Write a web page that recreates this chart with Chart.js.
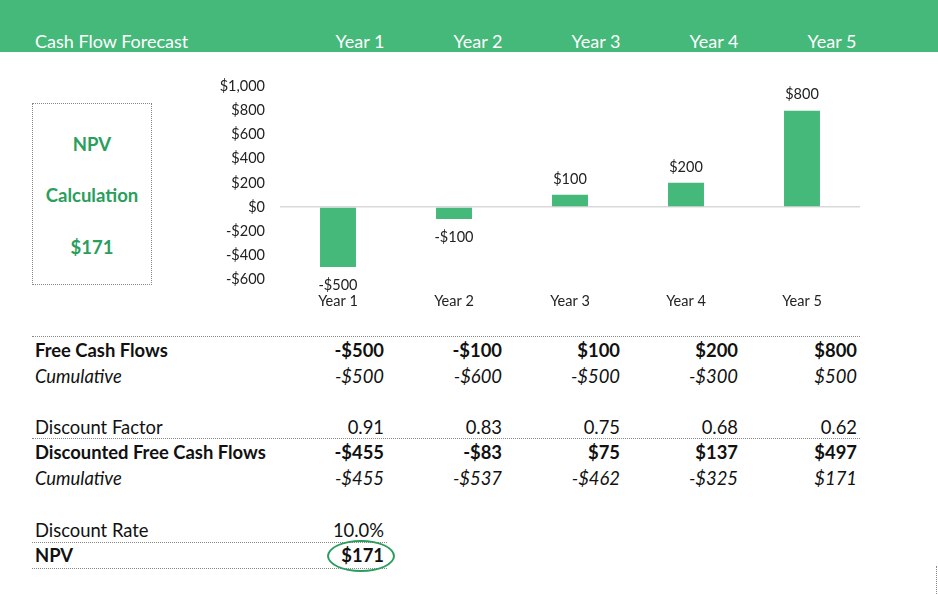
<!DOCTYPE html>
<html>
<head>
<meta charset="utf-8">
<script src="https://cdn.jsdelivr.net/npm/chart.js@4.4.1/dist/chart.umd.min.js"></script>
<style>
  html,body{margin:0;padding:0;background:#fff;}
  body{width:938px;height:594px;position:relative;overflow:hidden;font-family:Lato,"Open Sans",sans-serif;color:#111;}
  .band{position:absolute;left:0;top:0;width:938px;height:52px;background:#45B97A;}
  .htxt{position:absolute;top:30px;height:22px;line-height:22px;color:#fff;font-size:18px;}
  .hyear{width:100px;text-align:center;}
  .npvbox{position:absolute;left:32px;top:103px;width:118px;height:180px;border:1px dotted #888;}
  .npvtxt{position:absolute;left:0;width:118px;text-align:center;color:#2A9E5C;font-weight:bold;font-size:18.5px;line-height:22px;height:22px;}
  #chartWrap{position:absolute;left:200px;top:63px;width:680px;height:257px;}
  #c{display:block;width:680px;height:257px;}
  .row{position:absolute;left:0;width:938px;height:22px;line-height:22px;font-size:18.4px;}
  .lbl{position:absolute;left:35px;white-space:nowrap;}
  .val{position:absolute;width:110px;text-align:right;white-space:nowrap;}
  .b{font-weight:bold;}
  .i{font-style:italic;}
  .dot{position:absolute;height:0;border-top:1px dotted #888;}
  .ellipse{position:absolute;left:327px;top:540px;width:64px;height:28px;border:2.5px solid #2A9E5C;border-radius:50%;}
  .vdot{position:absolute;left:936px;top:566px;width:0;height:28px;border-left:1px dotted #888;}
</style>
</head>
<body>
<div class="band"></div>
<div id="header"></div>
<div class="npvbox" id="npvbox"></div>
<div id="chartWrap"><canvas id="c" width="680" height="257"></canvas></div>
<div id="table"></div>
<div class="vdot"></div>

<script>
// ---- data ----
const categories = ["Year 1", "Year 2", "Year 3", "Year 4", "Year 5"];
const freeCashFlows = [-500, -100, 100, 200, 800];
const cumulativeCashFlows = [-500, -600, -500, -300, 500];
const discountFactors = [0.91, 0.83, 0.75, 0.68, 0.62];
const discountedCashFlows = [-455, -83, 75, 137, 497];
const discountedCumulative = [-455, -537, -462, -325, 171];
const discountRate = "10.0%";
const npvValue = 171;
const yTicks = [-600, -400, -200, 0, 200, 400, 600, 800, 1000];

// ---- helpers ----
function money(v){
  const s = Math.abs(v).toLocaleString('en-US');
  return (v < 0 ? '-' : '') + '$' + s;
}
const colRight = [384, 502, 620, 738, 857];
const headCenter = [360, 478, 596, 714, 832];

// header
(function(){
  const h = document.getElementById('header');
  let html = '<div class="htxt" style="left:35px">Cash Flow Forecast</div>';
  categories.forEach((c,i)=>{
    html += '<div class="htxt hyear" style="left:'+(headCenter[i]-50)+'px">'+c+'</div>';
  });
  h.innerHTML = html;
})();

// NPV box
(function(){
  const b = document.getElementById('npvbox');
  b.innerHTML =
    '<div class="npvtxt" style="top:29px">NPV</div>' +
    '<div class="npvtxt" style="top:80px">Calculation</div>' +
    '<div class="npvtxt" style="top:132px">' + money(npvValue) + '</div>';
})();

// table
(function(){
  const t = document.getElementById('table');
  let html = '';
  function row(center, label, vals, cls){
    html += '<div class="row '+cls+'" style="top:'+(center-11)+'px"><span class="lbl">'+label+'</span>';
    vals.forEach((v,i)=>{
      if (v === null) return;
      html += '<span class="val" style="left:'+(colRight[i]-110)+'px">'+v+'</span>';
    });
    html += '</div>';
  }
  row(350, 'Free Cash Flows', freeCashFlows.map(money), 'b');
  row(376, 'Cumulative', cumulativeCashFlows.map(money), 'i');
  row(427, 'Discount Factor', discountFactors.map(v=>v.toFixed(2)), '');
  row(452, 'Discounted Free Cash Flows', discountedCashFlows.map(money), 'b');
  row(478, 'Cumulative', discountedCumulative.map(money), 'i');
  row(530, 'Discount Rate', [discountRate], '');
  row(555, 'NPV', [money(npvValue)], 'b');
  html += '<div class="dot" style="left:32px;top:336px;width:828px"></div>';
  html += '<div class="dot" style="left:32px;top:438px;width:828px"></div>';
  html += '<div class="dot" style="left:32px;top:542px;width:355px"></div>';
  html += '<div class="dot" style="left:32px;top:568px;width:355px"></div>';
  html += '<div class="ellipse"></div>';
  t.innerHTML = html;
})();

// chart
const barColor = '#45B97A';
const dataLabels = {
  id: 'dataLabels',
  afterDatasetsDraw(chart){
    const ctx = chart.ctx;
    const meta = chart.getDatasetMeta(0);
    ctx.save();
    ctx.font = '14.5px Lato, "Open Sans", sans-serif';
    ctx.fillStyle = '#222';
    ctx.textAlign = 'center';
    ctx.textBaseline = 'middle';
    meta.data.forEach((bar, i)=>{
      const v = chart.data.datasets[0].data[i];
      const y = v >= 0 ? bar.y - 16 : bar.y + 18;
      ctx.fillText(money(v), bar.x, y);
    });
    ctx.restore();
  }
};

new Chart(document.getElementById('c'), {
  type: 'bar',
  data: {
    labels: categories,
    datasets: [{
      data: freeCashFlows,
      backgroundColor: barColor,
      borderWidth: 0,
      barPercentage: 0.62,
      categoryPercentage: 0.5
    }]
  },
  plugins: [dataLabels],
  options: {
    responsive: false,
    maintainAspectRatio: false,
    animation: false,
    devicePixelRatio: 1,
    layout: { padding: { top: 8, right: 20, bottom: 0, left: 0 } },
    plugins: { legend: { display: false }, tooltip: { enabled: false } },
    scales: {
      x: {
        grid: { display: false, drawTicks: false },
        border: { display: false },
        ticks: { padding: 14, maxRotation: 0, color: '#222', font: { family: 'Lato', size: 14.5 } },
        afterFit(scale){ scale.height = 41; }
      },
      y: {
        min: -600, max: 1000,
        afterBuildTicks(scale){ scale.ticks = yTicks.map(v=>({value:v})); },
        grid: {
          drawTicks: false,
          color: c => (c.tick && c.tick.value === 0) ? '#d9d9d9' : 'rgba(0,0,0,0)',
          lineWidth: 1.5
        },
        border: { display: false },
        ticks: {
          padding: 15,
          color: '#222',
          font: { family: 'Lato', size: 14.5 },
          callback: v => money(v)
        },
        afterFit(scale){ scale.width = 80; }
      }
    }
  }
});
</script>
</body>
</html>
